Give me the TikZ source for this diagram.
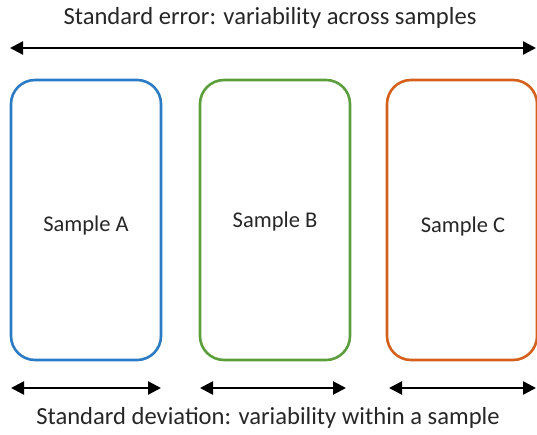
\documentclass[tikz,border=0pt]{standalone}
\usepackage{fontspec}
\setmainfont{Carlito}
\usetikzlibrary{arrows.meta}
\definecolor{cblue}{HTML}{2A7BC4}
\definecolor{cgreen}{HTML}{5C9E3C}
\definecolor{corange}{HTML}{D4601C}
\begin{document}
\begin{tikzpicture}[x=1pt,y=-1pt,
  samplebox/.style={draw, line width=2.6pt, rounded corners=24pt, minimum width=150pt, minimum height=280pt, inner sep=0pt},
  boxtext/.style={font=\fontsize{22.5}{27}\selectfont, inner sep=0pt, text=black!85},
  dbl/.style={line width=2.4pt, {Triangle[length=13pt,width=13pt]}-{Triangle[length=13pt,width=13pt]}},
  lbl/.style={font=\fontsize{24.6}{29}\selectfont, inner sep=0pt, text=black!85}]
\useasboundingbox (0,0) rectangle (537,435);
\node[lbl] (title) at (270,18) {Standard error: variability across samples};
\coordinate (tl) at (10,48);
\coordinate (tr) at (536,48);
\draw[dbl] (tl) -- (tr);
\node[samplebox, draw=cblue] (A) at (86,220) {};
\node[samplebox, draw=cgreen] (B) at (275,220) {};
\node[samplebox, draw=corange] (C) at (462,220) {};
\node[boxtext] (At) at (86,226) {Sample A};
\node[boxtext] (Bt) at (275,222) {Sample B};
\node[boxtext] (Ct) at (463,227) {Sample C};
\coordinate (a1) at (11,388); \coordinate (a2) at (161,388);
\coordinate (b1) at (200,388); \coordinate (b2) at (346,388);
\coordinate (c1) at (389,388); \coordinate (c2) at (536,388);
\draw[dbl] (a1) -- (a2);
\draw[dbl] (b1) -- (b2);
\draw[dbl] (c1) -- (c2);
\node[lbl] (foot) at (268,418) {Standard deviation: variability within a sample};
\end{tikzpicture}
\end{document}
